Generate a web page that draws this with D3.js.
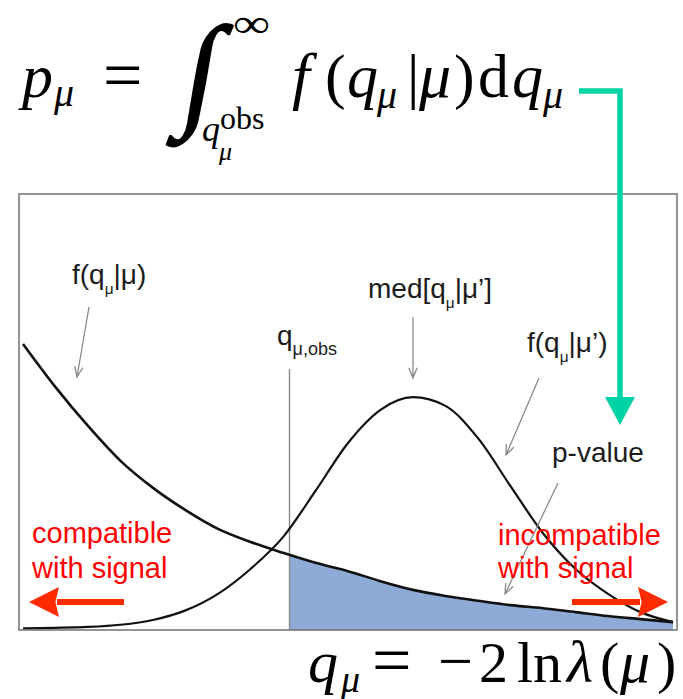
<!DOCTYPE html>
<html>
<head>
<meta charset="utf-8">
<script src="https://cdn.jsdelivr.net/npm/d3@7"></script>
<style>
  html, body { margin: 0; padding: 0; background: #fff; }
  svg { display: block; }
</style>
</head>
<body>
<script>
// Test statistic grid and the two sampling densities drawn over it
const qGrid = [0, 0.5, 1, 1.5, 2, 2.5, 3, 3.5, 4, 4.5, 5, 5.5, 6, 6.5, 7, 7.5, 8, 8.5, 9, 9.5, 10];
const fNull = [0.656, 0.557, 0.468, 0.388, 0.326, 0.275, 0.232, 0.202, 0.177, 0.154, 0.135,
               0.112, 0.092, 0.078, 0.067, 0.057, 0.050, 0.041, 0.032, 0.025, 0.018];
const fAlt  = [0.004, 0.005, 0.007, 0.012, 0.023, 0.045, 0.083, 0.140, 0.213, 0.319, 0.429,
               0.505, 0.534, 0.514, 0.440, 0.330, 0.222, 0.140, 0.083, 0.041, 0.018];
const qObs = 4.1;   // observed value of the test statistic
const qMed = 6.0;   // median of f(q|mu')

const W = 683, H = 699;
const svg = d3.select("body").append("svg").attr("width", W).attr("height", H);

const x = d3.scaleLinear().domain([0, 10]).range([23, 673]);
const y = d3.scaleLinear().domain([0, 1]).range([630, 194]);

const nullPts = qGrid.map((q, i) => [q, fNull[i]]);
const altPts  = qGrid.map((q, i) => [q, fAlt[i]]);

const frameL = x.range()[0] - 4, frameR = x.range()[1] + 4;

// p-value region: area under f(q|mu) beyond q_obs
svg.append("clipPath").attr("id", "tail")
  .append("rect")
  .attr("x", x(qObs)).attr("y", y(1))
  .attr("width", frameR - x(qObs)).attr("height", y(0) - y(1));

svg.append("path")
  .datum(nullPts)
  .attr("clip-path", "url(#tail)")
  .attr("fill", "#8eaad6")
  .attr("d", d3.area().x(d => x(d[0])).y0(y(0)).y1(d => y(d[1])).curve(d3.curveMonotoneX));

// frame
svg.append("rect")
  .attr("x", frameL).attr("y", y(1))
  .attr("width", frameR - frameL).attr("height", y(0) - y(1))
  .attr("fill", "none").attr("stroke", "#707070").attr("stroke-width", 1.5);

// q_obs marker
svg.append("line")
  .attr("x1", x(qObs)).attr("x2", x(qObs))
  .attr("y1", 369).attr("y2", y(0))
  .attr("stroke", "#8a8a8a").attr("stroke-width", 1.4);

const line = d3.line().x(d => x(d[0])).y(d => y(d[1])).curve(d3.curveMonotoneX);

svg.append("path").datum(altPts)
  .attr("fill", "none").attr("stroke", "#111").attr("stroke-width", 2.2)
  .attr("d", line);
svg.append("path").datum(nullPts)
  .attr("fill", "none").attr("stroke", "#111").attr("stroke-width", 2.6)
  .attr("d", line);

// thin grey pointer arrows with open heads
function pointer(x1, y1, x2, y2) {
  const a = Math.atan2(y2 - y1, x2 - x1), L = 11, s = 0.38;
  const p = d3.path();
  p.moveTo(x1, y1); p.lineTo(x2, y2);
  p.moveTo(x2 - L * Math.cos(a - s), y2 - L * Math.sin(a - s));
  p.lineTo(x2, y2);
  p.lineTo(x2 - L * Math.cos(a + s), y2 - L * Math.sin(a + s));
  svg.append("path").attr("d", p.toString())
    .attr("fill", "none").attr("stroke", "#8a8a8a").attr("stroke-width", 1.3);
}
pointer(89, 307, 77, 377);
pointer(x(qMed), 317, x(qMed), 378);
pointer(539, 378, 506, 455);
pointer(558, 483, 505, 594);

// annotation labels with a subscript
function label(x0, y0, parts, size, color) {
  const t = svg.append("text").attr("x", x0).attr("y", y0)
    .attr("font-family", "'Liberation Sans', Arial, sans-serif")
    .attr("font-size", size).attr("fill", color || "#1c1c1c");
  let shift = 0;
  parts.forEach(([s, sub]) => {
    const want = sub ? Math.round(size * 0.34) : 0;
    t.append("tspan").attr("dy", want - shift)
      .attr("font-size", sub ? (sub === 1 ? size * 0.55 : sub) : size)
      .text(s);
    shift = want;
  });
  return t;
}
label(72, 284, [["f(q"], ["μ", 1], ["|μ)"]], 28);
label(277, 345, [["q"], ["μ,obs", 18]], 28);
label(368, 298, [["med[q"], ["μ", 1], ["|μ’]"]], 28);
label(527, 352, [["f(q"], ["μ", 1], ["|μ’)"]], 28);
label(552, 462, [["p-value"]], 28);

// direction hints
const red = "#ff0000", redArrow = "#ff2a00";
label(32, 543, [["compatible"]], 29, red);
label(32, 578, [["with signal"]], 29, red);
label(498, 545, [["incompatible"]], 29, red);
label(498, 578, [["with signal"]], 29, red);

function block(x1, x2, yc, color) {
  const dir = Math.sign(x2 - x1), head = 30, half = 15;
  svg.append("line").attr("x1", x1).attr("x2", x2 - dir * head + dir * 2)
    .attr("y1", yc).attr("y2", yc)
    .attr("stroke", color).attr("stroke-width", 6);
  svg.append("path")
    .attr("d", `M${x2},${yc} L${x2 - dir * head},${yc - half} L${x2 - dir * head * 0.88},${yc} L${x2 - dir * head},${yc + half} Z`)
    .attr("fill", color);
}
block(124, 29, 602, redArrow);
block(572, 668, 602, redArrow);

// connector from the formula to the tail area
const teal = "#00d3a6";
svg.append("path")
  .attr("d", "M579,91 L620,91 L620,400")
  .attr("fill", "none").attr("stroke", teal).attr("stroke-width", 5.5);
svg.append("path")
  .attr("d", "M605,397 L635,397 L620,425 Z")
  .attr("fill", teal);

// formulas: each glyph run placed explicitly inside one text element
const serif = "'Liberation Serif', 'Times New Roman', serif";
function formula(runs) {
  const t = svg.append("text").attr("font-family", serif).attr("fill", "#000");
  runs.forEach(([s, gx, gy, size, italic]) => {
    t.append("tspan").attr("x", gx).attr("y", gy)
      .attr("font-size", size)
      .attr("font-style", italic ? "italic" : "normal")
      .text(s);
  });
  return t;
}

formula([
  ["p", 22, 97, 62, true],
  ["μ", 54, 106, 40, true],
  ["=", 103, 99, 70, false]
]);
// integral sign, stretched and slanted for display style
svg.append("text")
  .attr("font-family", serif).attr("font-size", 96)
  .attr("stroke", "#000").attr("stroke-width", 1.5).attr("fill", "#000")
  .attr("transform", "translate(195,113) skewX(-10) scale(1.25,1.3)")
  .attr("text-anchor", "middle")
  .text("∫");
svg.append("text")
  .attr("font-family", serif).attr("font-size", 40).attr("fill", "#000")
  .attr("transform", "translate(233,37) scale(1.3,1)")
  .text("∞");
formula([
  ["q", 202, 141, 36, true],
  ["obs", 220, 129, 32, false],
  ["μ", 219, 160, 26, true]
]);
formula([
  ["f", 292, 97, 64, true],
  ["(", 325, 97, 62, false],
  ["q", 347, 97, 62, true],
  ["μ", 377, 108, 40, true],
  ["|", 407, 97, 62, false],
  ["μ", 419, 97, 64, true],
  [")", 454, 97, 62, false],
  ["d", 478, 97, 62, false],
  ["q", 512, 97, 62, true],
  ["μ", 543, 108, 40, true]
]);

formula([
  ["q", 308, 682, 60, true],
  ["μ", 341, 692, 38, true],
  ["=", 372, 684, 70, false],
  ["−", 438, 682, 62, false],
  ["2", 479, 682, 58, false],
  ["ln", 517, 682, 58, false],
  ["λ", 567, 682, 60, true],
  ["(", 600, 682, 58, false],
  ["μ", 620, 682, 60, true],
  [")", 657, 682, 58, false]
]);
</script>
</body>
</html>
